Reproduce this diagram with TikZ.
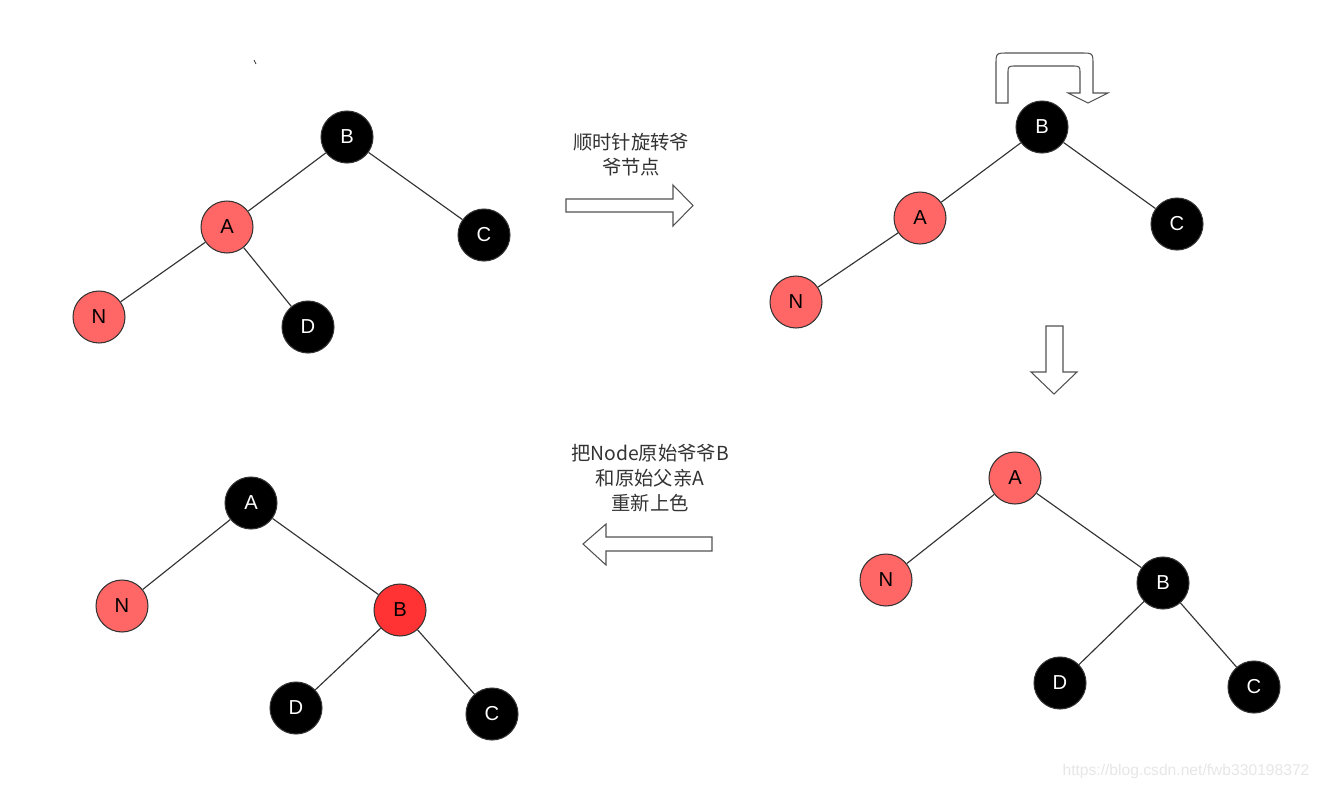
\documentclass[tikz,border=0pt]{standalone}
\usepackage{fontspec}
\setmainfont{Liberation Sans}
\newfontfamily\cjk{Noto Sans CJK SC}
\usetikzlibrary{positioning}

\definecolor{nodered}{HTML}{FF6666}
\definecolor{nodebright}{HTML}{FF3333}
\definecolor{edgegray}{HTML}{333333}
\definecolor{markgray}{HTML}{E6E6E6}

\begin{document}
\begin{tikzpicture}[
  x=0.02cm, y=-0.02cm,
  rbnode/.style={circle, draw=edgegray, line width=0.6pt, minimum size=1.04cm, inner sep=0pt, font=\fontsize{11.5}{13}\selectfont},
  rednode/.style={rbnode, fill=nodered, text=black},
  blacknode/.style={rbnode, fill=black, text=white},
  edge/.style={draw=edgegray, line width=0.65pt},
  blockarrow/.style={draw=edgegray!85, line width=0.6pt, fill=white, line join=miter},
  caption/.style={font=\cjk\fontsize{11}{14.3}\selectfont, text=edgegray, align=center}
]
\useasboundingbox (0,0) rectangle (1320,789);

% stray mark
\draw[edgegray, line width=0.5pt] (254,60) -- (256,64);

% tree 1: before rotation
\node[blacknode] (b1) at (347,137) {B};
\node[rednode] (a1) at (227,227) {A};
\node[blacknode] (c1) at (484,235) {C};
\node[rednode] (n1) at (99,317) {N};
\node[blacknode] (d1) at (308,327) {D};

\draw[edge] (b1) -- (a1);
\draw[edge] (b1) -- (c1);
\draw[edge] (a1) -- (n1);
\draw[edge] (a1) -- (d1);

% tree 2: rotate grandparent
\node[blacknode] (b2) at (1042,127) {B};
\node[rednode] (a2) at (920,218) {A};
\node[blacknode] (c2) at (1177,224) {C};
\node[rednode] (n2) at (796,302) {N};

\draw[edge] (b2) -- (a2);
\draw[edge] (b2) -- (c2);
\draw[edge] (a2) -- (n2);

% tree 3: after rotation
\node[rednode] (a3) at (1015,478) {A};
\node[rednode] (n3) at (886,580) {N};
\node[blacknode] (b3) at (1163,583) {B};
\node[blacknode] (d3) at (1060,683) {D};
\node[blacknode] (c3) at (1254,687) {C};

\draw[edge] (a3) -- (n3);
\draw[edge] (a3) -- (b3);
\draw[edge] (b3) -- (d3);
\draw[edge] (b3) -- (c3);

% tree 4: recoloured
\node[blacknode] (a4) at (251,503) {A};
\node[rednode] (n4) at (122,606) {N};
\node[rednode, fill=nodebright] (b4) at (400,610) {B};
\node[blacknode] (d4) at (296,708) {D};
\node[blacknode] (c4) at (492,714) {C};

\draw[edge] (a4) -- (n4);
\draw[edge] (a4) -- (b4);
\draw[edge] (b4) -- (d4);
\draw[edge] (b4) -- (c4);

% block arrows
\draw[blockarrow] (566,199) -- (673,199) -- (673,185) -- (693,205.5) -- (673,226) -- (673,212) -- (566,212) -- cycle;
\draw[blockarrow] (712,537) -- (606,537) -- (606,524) -- (583,544) -- (606,565) -- (606,551) -- (712,551) -- cycle;
\draw[blockarrow] (1046,326) -- (1063,326) -- (1063,372) -- (1077,372) -- (1054,394) -- (1031,372) -- (1046,372) -- cycle;
\draw[blockarrow] (996,103) -- (996,65) .. controls (996,53) .. (1008,53) -- (1081,53) .. controls (1093,53) .. (1093,65)
  -- (1093,93) -- (1108,93) -- (1088,103) -- (1068,93) -- (1080,93) -- (1080,74) .. controls (1080,66) .. (1072,66)
  -- (1016,66) .. controls (1008,66) .. (1008,74) -- (1008,103) -- cycle;

% captions
\node[caption] (rotate) at (631,155) {顺时针旋转爷\\爷节点};
\node[caption] (recolor) at (650,478) {把Node原始爷爷B\\和原始父亲A\\重新上色};

% watermark
\node[font=\fontsize{8.9}{10}\selectfont, text=markgray] (mark) at (1186,771) {https://blog.csdn.net/fwb330198372};

\end{tikzpicture}
\end{document}
